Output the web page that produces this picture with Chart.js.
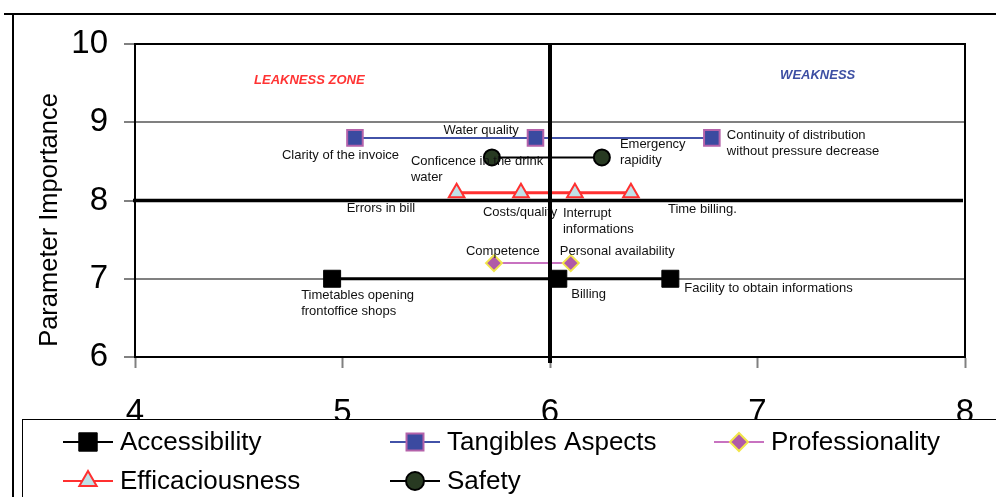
<!DOCTYPE html>
<html>
<head>
<meta charset="utf-8">
<script src="https://cdn.jsdelivr.net/npm/chart.js@4.4.0/dist/chart.umd.min.js"></script>
<style>
    html, body { margin: 0; padding: 0; background: #fff; }
    #wrap { width: 996px; height: 497px; }
</style>
</head>
<body>
<div id="wrap"><canvas id="quadrant-chart" width="996" height="497"></canvas></div>
<script>
// Data
const xTicks = [4, 5, 6, 7, 8];
const yTicks = [6, 7, 8, 9, 10];

const accessibilityX = [4.95, 6.04, 6.58];
const accessibilityY = [7, 7, 7];
const accessibilityLabels = [['Timetables opening', 'frontoffice shops'], ['Billing'], ['Facility to obtain informations']];

const tangiblesX = [5.06, 5.93, 6.78];
const tangiblesY = [8.8, 8.8, 8.8];
const tangiblesLabels = [['Clarity of the invoice'], ['Water quality'], ['Continuity of distribution', 'without pressure decrease']];

const professionalityX = [5.73, 6.10];
const professionalityY = [7.2, 7.2];
const professionalityLabels = [['Competence'], ['Personal availability']];

const efficaciousnessX = [5.55, 5.86, 6.12, 6.39];
const efficaciousnessY = [8.1, 8.1, 8.1, 8.1];
const efficaciousnessLabels = [['Errors in bill'], ['Costs/quality'], ['Interrupt', 'informations'], ['Time billing.']];

const safetyX = [5.72, 6.25];
const safetyY = [8.55, 8.55];
const safetyLabels = [['Conficence in the drink', 'water'], ['Emergency', 'rapidity']];

// Quadrant split values
const splitX = 6;
const splitY = 8;

// Zone captions (placed in data coordinates)
const zoneNames = ['LEAKNESS ZONE', 'WEAKNESS'];
const zoneX = [4.84, 7.29];
const zoneY = [9.54, 9.6];

// Label offsets from each point (pixels): [dx to left edge, dy to first line]
const labelOffsets = [
    [[-31, 17], [13, 16], [14, 10]],
    [[-73, 18], [-92, -7], [15, -2]],
    [[-28, -12], [-11, -12]],
    [[-110, 16], [-38, 20], [-12, 21], [37, 17]],
    [[-81, 4], [18, -13]]
];

const FONT = "'Liberation Sans', Arial, Helvetica, sans-serif";

function toPoints(xs, ys) {
    return xs.map((x, i) => ({ x: x, y: ys[i] }));
}

const datasets = [
    {
        label: 'Accessibility',
        data: toPoints(accessibilityX, accessibilityY),
        pointLabels: accessibilityLabels,
        borderColor: '#000000',
        borderWidth: 3,
        pointStyle: 'rect',
        pointRadius: 12,
        pointBackgroundColor: '#000000',
        pointBorderColor: '#000000',
        pointBorderWidth: 1
    },
    {
        label: 'Tangibles Aspects',
        data: toPoints(tangiblesX, tangiblesY),
        pointLabels: tangiblesLabels,
        borderColor: '#4252a8',
        borderWidth: 2,
        pointStyle: 'rect',
        pointRadius: 11,
        pointBackgroundColor: '#3b4aa0',
        pointBorderColor: '#b462aa',
        pointBorderWidth: 2
    },
    {
        label: 'Professionality',
        data: toPoints(professionalityX, professionalityY),
        pointLabels: professionalityLabels,
        borderColor: '#c872c0',
        borderWidth: 2,
        pointStyle: 'rectRot',
        pointRadius: 8,
        pointBackgroundColor: '#b05aa8',
        pointBorderColor: '#f2e64a',
        pointBorderWidth: 2
    },
    {
        label: 'Efficaciousness',
        data: toPoints(efficaciousnessX, efficaciousnessY),
        pointLabels: efficaciousnessLabels,
        borderColor: '#ff3030',
        borderWidth: 3,
        pointStyle: 'triangle',
        pointRadius: 9,
        pointBackgroundColor: '#c0e2e8',
        pointBorderColor: '#ff3030',
        pointBorderWidth: 2
    },
    {
        label: 'Safety',
        data: toPoints(safetyX, safetyY),
        pointLabels: safetyLabels,
        borderColor: '#000000',
        borderWidth: 2,
        pointStyle: 'circle',
        pointRadius: 8,
        pointBackgroundColor: '#283a22',
        pointBorderColor: '#000000',
        pointBorderWidth: 2
    }
];
datasets.forEach(ds => { ds.showLine = true; ds.fill = false; ds.tension = 0; ds.pointHoverRadius = ds.pointRadius; });

// Frame of plot area, split lines, point labels and zone captions
const quadrantPlugin = {
    id: 'quadrant',
    beforeDatasetsDraw(chart) {
        const { ctx, chartArea: a } = chart;
        ctx.save();
        ctx.strokeStyle = '#000';
        ctx.lineWidth = 2;
        ctx.strokeRect(a.left, a.top, a.right - a.left, a.bottom - a.top);
        ctx.restore();
    },
    afterDatasetsDraw(chart) {
        const { ctx, chartArea: a, scales } = chart;
        ctx.save();
        // point labels
        ctx.font = '13px ' + FONT;
        ctx.fillStyle = '#111';
        ctx.textAlign = 'left';
        ctx.textBaseline = 'middle';
        chart.data.datasets.forEach((ds, di) => {
            const meta = chart.getDatasetMeta(di);
            meta.data.forEach((pt, i) => {
                const off = labelOffsets[di][i];
                ds.pointLabels[i].forEach((line, li) => {
                    ctx.fillText(line, pt.x + off[0], pt.y + off[1] + li * 16);
                });
            });
        });
        // zone captions
        ctx.font = 'italic bold 13px ' + FONT;
        ctx.textAlign = 'center';
        ctx.fillStyle = '#ff3333';
        ctx.fillText(zoneNames[0], scales.x.getPixelForValue(zoneX[0]), scales.y.getPixelForValue(zoneY[0]));
        ctx.fillStyle = '#3d4fa3';
        ctx.fillText(zoneNames[1], scales.x.getPixelForValue(zoneX[1]), scales.y.getPixelForValue(zoneY[1]));
        // split lines
        const px = scales.x.getPixelForValue(splitX);
        const py = scales.y.getPixelForValue(splitY);
        ctx.strokeStyle = '#000';
        ctx.lineWidth = 3.5;
        ctx.beginPath();
        ctx.moveTo(a.left - 2, py);
        ctx.lineTo(a.right - 2, py);
        ctx.stroke();
        ctx.lineWidth = 4;
        ctx.beginPath();
        ctx.moveTo(px, a.top);
        ctx.lineTo(px, a.bottom + 6);
        ctx.stroke();
        ctx.restore();
    },
    afterDraw(chart) {
        const ctx = chart.ctx;
        ctx.save();
        // axis title
        ctx.translate(50, 220);
        ctx.rotate(-Math.PI / 2);
        ctx.font = '25.5px ' + FONT;
        ctx.fillStyle = '#000';
        ctx.textAlign = 'center';
        ctx.textBaseline = 'middle';
        ctx.fillText('Parameter Importance', 0, 0);
        ctx.restore();

        ctx.save();
        // outer frame lines
        ctx.strokeStyle = '#000';
        ctx.lineWidth = 2;
        ctx.beginPath();
        ctx.moveTo(4, 14);
        ctx.lineTo(996, 14);
        ctx.moveTo(13, 14);
        ctx.lineTo(13, 497);
        ctx.stroke();

        // legend box (overlaps x tick labels as in the original)
        ctx.fillStyle = '#fff';
        ctx.fillRect(22, 419, 990, 90);
        ctx.lineWidth = 1;
        ctx.strokeRect(22.5, 419.5, 990, 90);

        const cols = [63, 390, 714];
        const rows = [442, 481];
        chart.data.datasets.forEach((ds, i) => {
            const x = cols[i % 3];
            const y = rows[Math.floor(i / 3)];
            ctx.strokeStyle = ds.borderColor;
            ctx.lineWidth = 2;
            ctx.beginPath();
            ctx.moveTo(x, y);
            ctx.lineTo(x + 50, y);
            ctx.stroke();
            ctx.fillStyle = ds.pointBackgroundColor;
            ctx.strokeStyle = ds.pointBorderColor;
            ctx.lineWidth = ds.pointBorderWidth;
            Chart.helpers.drawPoint(ctx, {
                pointStyle: ds.pointStyle,
                radius: ds.pointRadius + 1,
                rotation: 0,
                borderWidth: ds.pointBorderWidth
            }, x + 25, y);
            ctx.fillStyle = '#000';
            ctx.font = '26px ' + FONT;
            ctx.textAlign = 'left';
            ctx.textBaseline = 'middle';
            ctx.fillText(ds.label, x + 57, y + 1);
        });
        ctx.restore();
    }
};

const ctx = document.getElementById('quadrant-chart').getContext('2d');

new Chart(ctx, {
    type: 'scatter',
    data: { datasets: datasets },
    options: {
        responsive: false,
        animation: false,
        layout: { padding: { left: 0, top: 44, right: 31, bottom: 70 } },
        plugins: {
            legend: { display: false },
            tooltip: { enabled: false }
        },
        scales: {
            x: {
                type: 'linear',
                min: xTicks[0],
                max: xTicks[xTicks.length - 1],
                afterBuildTicks(scale) { scale.ticks = xTicks.map(v => ({ value: v })); },
                afterFit(scale) {
                    scale.height = 70;
                    scale.paddingLeft = 0;
                    scale.paddingRight = 0;
                },
                border: { color: '#000', width: 2 },
                grid: { drawOnChartArea: false, tickLength: 11, tickColor: '#808080', tickWidth: 2 },
                ticks: { color: '#000', padding: 25, maxRotation: 0, minRotation: 0, font: { family: FONT, size: 33 } }
            },
            y: {
                type: 'linear',
                min: yTicks[0],
                max: yTicks[yTicks.length - 1],
                afterBuildTicks(scale) { scale.ticks = yTicks.map(v => ({ value: v })); },
                afterFit(scale) { scale.width = 135; },
                border: { color: '#000', width: 2 },
                grid: {
                    color: (c) => (c.tick && (c.tick.value === 7 || c.tick.value === 9)) ? '#808080' : 'rgba(0,0,0,0)',
                    lineWidth: 2,
                    tickLength: 11,
                    tickColor: '#808080',
                    tickWidth: 2
                },
                ticks: { color: '#000', padding: 16, font: { family: FONT, size: 33 } }
            }
        }
    },
    plugins: [quadrantPlugin]
});
</script>
</body>
</html>
